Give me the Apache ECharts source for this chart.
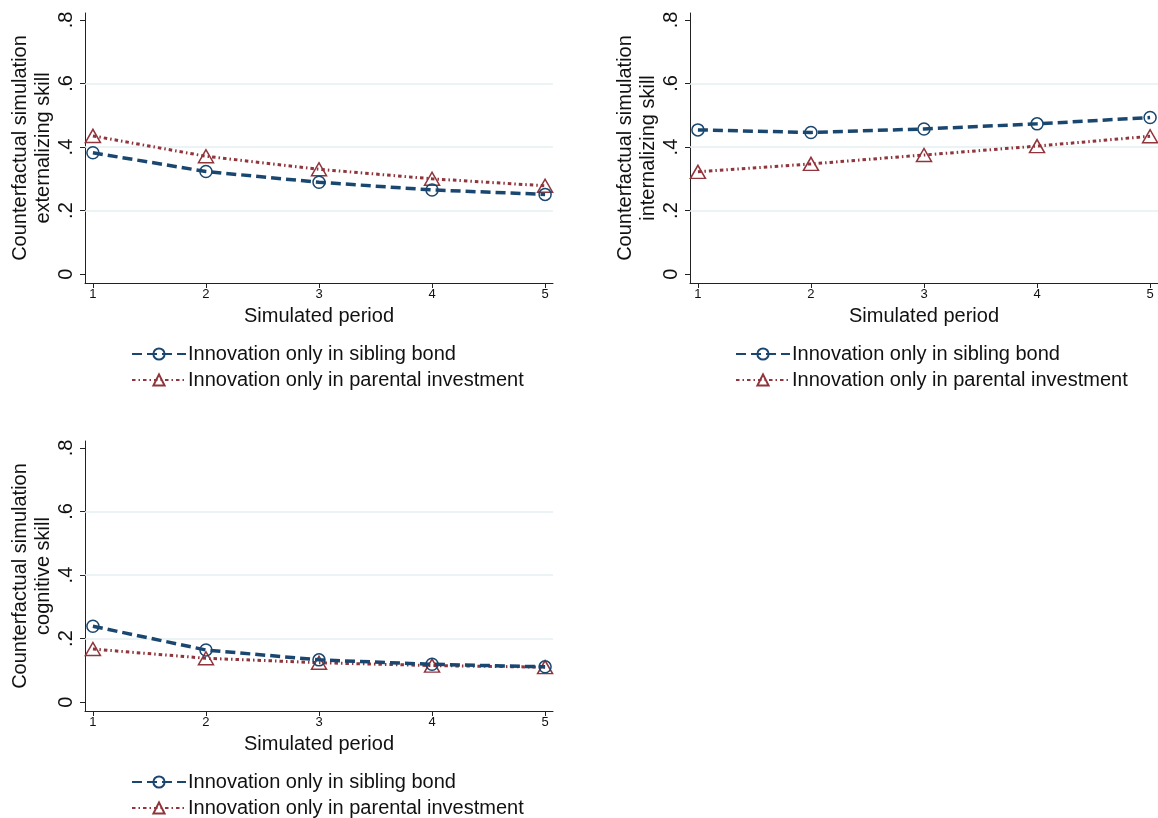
<!DOCTYPE html>
<html>
<head>
<meta charset="utf-8">
<script src="https://cdn.jsdelivr.net/npm/echarts@6/dist/echarts.min.js"></script>
<style>
html,body{margin:0;padding:0;background:#fff;}
#chart{width:1158px;height:818px;}
</style>
</head>
<body>
<div id="chart"></div>
<script>
// ---- data ----
const periods = [1, 2, 3, 4, 5];
const yTicks = [0, 0.2, 0.4, 0.6, 0.8];
const yTickLabels = ['0', '.2', '.4', '.6', '.8'];
const gridValues = [0.2, 0.4, 0.6];
const seriesNames = ['Innovation only in sibling bond', 'Innovation only in parental investment'];
const panelTitles = [
  'Counterfactual simulation\nexternalizing skill',
  'Counterfactual simulation\ninternalizing skill',
  'Counterfactual simulation\ncognitive skill'
];
const xTitle = 'Simulated period';
// externalizing
const extSibling  = [0.382, 0.323, 0.289, 0.265, 0.251];
const extParental = [0.435, 0.371, 0.330, 0.300, 0.278];
// internalizing
const intSibling  = [0.454, 0.446, 0.457, 0.473, 0.493];
const intParental = [0.322, 0.347, 0.375, 0.403, 0.434];
// cognitive
const cogSibling  = [0.239, 0.164, 0.133, 0.119, 0.111];
const cogParental = [0.167, 0.138, 0.124, 0.115, 0.110];

const panelData = [
  [extSibling, extParental],
  [intSibling, intParental],
  [cogSibling, cogParental]
];

// ---- styles ----
const BLUE = '#1a476f';
const RED = '#90353b';
const FONT = '"Liberation Sans", Arial, Helvetica, sans-serif';
const grids = [
  {left: 85, top: 13, width: 468, height: 270},
  {left: 690, top: 13, width: 468, height: 270},
  {left: 85, top: 441, width: 468, height: 270}
];
const legendPos = [
  {left: 131, top: 344},
  {left: 735, top: 344},
  {left: 131, top: 772}
];

const xAxes = [], yAxes = [], series = [], legends = [];
grids.forEach((g, i) => {
  xAxes.push({
    type: 'value', gridIndex: i, min: 0.93, max: 5.07,
    name: xTitle, nameLocation: 'middle', nameGap: 23,
    nameTextStyle: {fontFamily: FONT, fontSize: 20, color: '#111'},
    axisLine: {show: true, onZero: false, lineStyle: {color: '#222', width: 1}},
    axisTick: {show: true, length: 5, customValues: periods, lineStyle: {color: '#222'}},
    axisLabel: {customValues: periods, fontFamily: FONT, fontSize: 13, color: '#111', margin: 5,
      formatter: v => String(v)},
    splitLine: {show: false}
  });
  yAxes.push({
    type: 'value', gridIndex: i, min: -0.028, max: 0.822,
    name: panelTitles[i], nameLocation: 'middle', nameGap: 27, nameRotate: 90,
    nameTextStyle: {fontFamily: FONT, fontSize: 20, color: '#111', lineHeight: 23},
    axisLine: {show: true, onZero: false, lineStyle: {color: '#222', width: 1}},
    axisTick: {show: true, length: 5, customValues: yTicks, lineStyle: {color: '#222'}},
    axisLabel: {customValues: yTicks, rotate: 90, fontFamily: FONT, fontSize: 20, color: '#111', margin: 9,
      formatter: v => yTickLabels[yTicks.findIndex(t => Math.abs(t - v) < 1e-6)] ?? ''},
    splitLine: {show: false}
  });
  const [sib, par] = panelData[i];
  series.push({
    name: seriesNames[0], type: 'line', xAxisIndex: i, yAxisIndex: i,
    data: periods.map((p, k) => [p, sib[k]]),
    symbol: 'circle', symbolSize: 12,
    lineStyle: {color: BLUE, width: 3.5, type: [10, 5]},
    itemStyle: {color: 'rgba(255,255,255,0)', borderColor: BLUE, borderWidth: 1.5},
    z: 3,
    markLine: {
      silent: true, symbol: 'none', label: {show: false},
      lineStyle: {color: '#e6eff1', width: 1.5, type: 'solid'},
      data: gridValues.map(v => ({yAxis: v})),
      z: 1
    }
  });
  series.push({
    name: seriesNames[1], type: 'line', xAxisIndex: i, yAxisIndex: i,
    data: periods.map((p, k) => [p, par[k]]),
    symbol: 'triangle', symbolSize: [15, 13],
    lineStyle: {color: RED, width: 3, type: [3.5, 3, 1.5, 3]},
    itemStyle: {color: 'rgba(255,255,255,0)', borderColor: RED, borderWidth: 1.5},
    z: 2
  });
  legends.push({
    orient: 'vertical', left: legendPos[i].left, top: legendPos[i].top,
    padding: 0,
    itemWidth: 54, itemHeight: 14, itemGap: 6,
    textStyle: {fontFamily: FONT, fontSize: 20, lineHeight: 20, color: '#111', padding: [0, 0, 0, -3]},
    data: seriesNames
  });
});

const chart = echarts.init(document.getElementById('chart'), null, {renderer: 'canvas'});
chart.setOption({
  backgroundColor: '#ffffff',
  animation: false,
  grid: grids.map(g => Object.assign({containLabel: false}, g)),
  xAxis: xAxes,
  yAxis: yAxes,
  legend: legends,
  series: series
});
</script>
</body>
</html>
